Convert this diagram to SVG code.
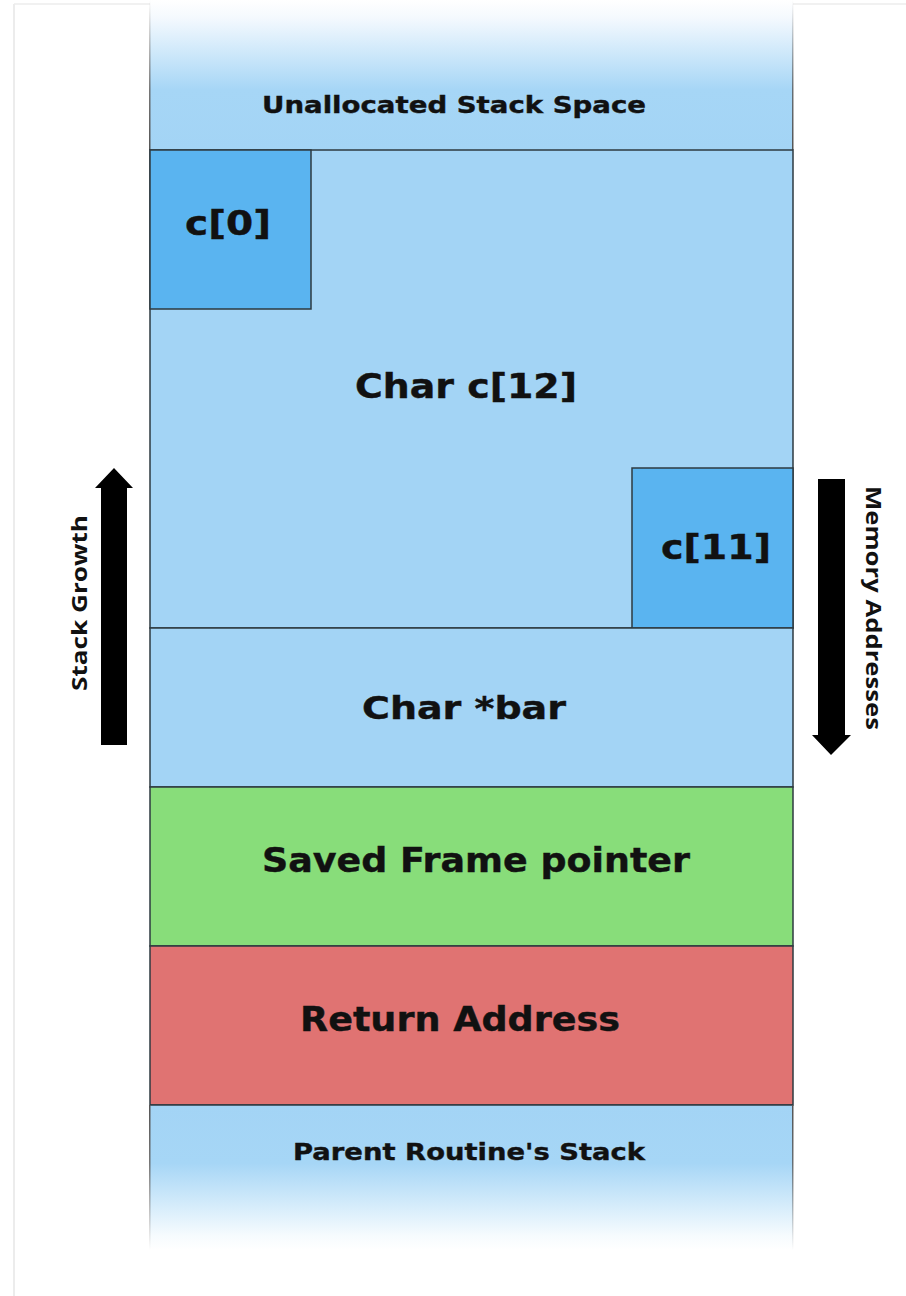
<svg xmlns="http://www.w3.org/2000/svg" width="906" height="1296" viewBox="0 0 906 1296">
<defs>
<linearGradient id="gTop" x1="0" y1="0" x2="0" y2="1">
<stop offset="0" stop-color="#ffffff"/>
<stop offset="0.12" stop-color="#f4f9fe"/>
<stop offset="0.6" stop-color="#a6d6f6"/>
<stop offset="1" stop-color="#a3d4f5"/>
</linearGradient>
<linearGradient id="gBot" x1="0" y1="0" x2="0" y2="1">
<stop offset="0" stop-color="#a3d4f5"/>
<stop offset="0.4" stop-color="#a6d6f6"/>
<stop offset="0.9" stop-color="#f6fbfe"/>
<stop offset="1" stop-color="#ffffff"/>
</linearGradient>
<linearGradient id="gEdgeTop" x1="0" y1="0" x2="0" y2="1">
<stop offset="0" stop-color="#555" stop-opacity="0"/>
<stop offset="0.6" stop-color="#555" stop-opacity="0.8"/>
<stop offset="1" stop-color="#555" stop-opacity="1"/>
</linearGradient>
<linearGradient id="gEdgeBot" x1="0" y1="0" x2="0" y2="1">
<stop offset="0" stop-color="#555" stop-opacity="1"/>
<stop offset="0.4" stop-color="#555" stop-opacity="0.8"/>
<stop offset="1" stop-color="#555" stop-opacity="0"/>
</linearGradient>
<style>
.box{stroke:#2e3a40;stroke-width:1.5}
.lbl{font-family:"DejaVu Sans",sans-serif;font-weight:bold;fill:#111;text-anchor:middle;stroke:#111;stroke-width:0.4}
.side{font-family:"Open Sans","DejaVu Sans",sans-serif;font-weight:bold;fill:#111;text-anchor:middle;font-size:22px}
</style>
</defs>
<rect width="906" height="1296" fill="#ffffff"/>
<line x1="14" y1="4" x2="14" y2="1296" stroke="#e6e6e6" stroke-width="1.5"/>
<line x1="14" y1="4" x2="906" y2="4" stroke="#ececec" stroke-width="1.5"/>

<g id="unallocated">
<rect x="150" y="0" width="643" height="150" fill="url(#gTop)"/>
<rect x="149" y="0" width="1.5" height="150" fill="url(#gEdgeTop)"/>
<rect x="792" y="0" width="1.5" height="150" fill="url(#gEdgeTop)"/>
<text class="lbl" x="454" y="113" font-size="23" textLength="384" lengthAdjust="spacingAndGlyphs">Unallocated Stack Space</text>
</g>
<g id="char-c12">
<rect class="box" x="150" y="150" width="643" height="478" fill="#a3d4f5"/>
<text class="lbl" x="466" y="398" font-size="34" textLength="222" lengthAdjust="spacingAndGlyphs">Char c[12]</text>
</g>
<g id="c0">
<rect class="box" x="150" y="150" width="161" height="159" fill="#5ab4f0"/>
<text class="lbl" x="228" y="235" font-size="34" textLength="86" lengthAdjust="spacingAndGlyphs">c[0]</text>
</g>
<g id="c11">
<rect class="box" x="632" y="468" width="161" height="160" fill="#5ab4f0"/>
<text class="lbl" x="716" y="559" font-size="34" textLength="110" lengthAdjust="spacingAndGlyphs">c[11]</text>
</g>
<g id="char-bar">
<rect class="box" x="150" y="628" width="643" height="159" fill="#a3d4f5"/>
<text class="lbl" x="464" y="719" font-size="32" textLength="204" lengthAdjust="spacingAndGlyphs">Char *bar</text>
</g>
<g id="saved-frame-pointer">
<rect class="box" x="150" y="787" width="643" height="159" fill="#88dd7a"/>
<text class="lbl" x="476" y="872" font-size="33" textLength="428" lengthAdjust="spacingAndGlyphs">Saved Frame pointer</text>
</g>
<g id="return-address">
<rect class="box" x="150" y="946" width="643" height="159" fill="#e07372"/>
<text class="lbl" x="460" y="1031" font-size="33" textLength="320" lengthAdjust="spacingAndGlyphs">Return Address</text>
</g>
<g id="parent-stack">
<rect x="150" y="1105" width="643" height="145" fill="url(#gBot)"/>
<line x1="150" y1="1105" x2="793" y2="1105" stroke="#2e3a40" stroke-width="1.5"/>
<rect x="149" y="1105" width="1.5" height="145" fill="url(#gEdgeBot)"/>
<rect x="792" y="1105" width="1.5" height="145" fill="url(#gEdgeBot)"/>
<text class="lbl" x="469" y="1160" font-size="23" textLength="352" lengthAdjust="spacingAndGlyphs">Parent Routine's Stack</text>
</g>

<g id="connectors">
<g id="stack-growth">
<polygon points="101,745 127,745 127,488 133,488 114,468 95,488 101,488" fill="#000"/>
<text class="side" transform="translate(87,603) rotate(-90)" textLength="176" lengthAdjust="spacingAndGlyphs">Stack Growth</text>
</g>
<g id="memory-addresses">
<polygon points="818,479 845,479 845,735 851,735 831,755 812,735 818,735" fill="#000"/>
<text class="side" transform="translate(866,608) rotate(90)" textLength="244" lengthAdjust="spacingAndGlyphs">Memory Addresses</text>
</g>
</g>
</svg>
